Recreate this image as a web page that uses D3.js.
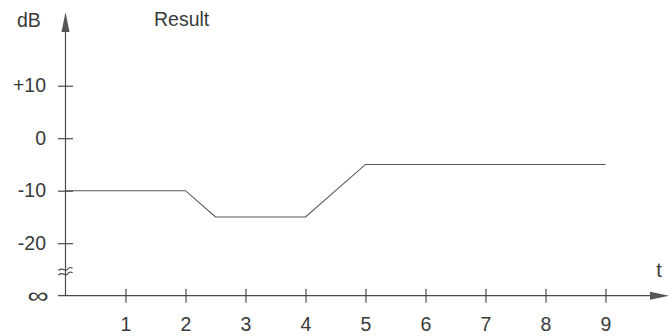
<!DOCTYPE html>
<html><head><meta charset="utf-8">
<script src="https://cdn.jsdelivr.net/npm/d3@7"></script>
<style>
html,body{margin:0;padding:0;background:#fff;}
svg{display:block;}
text{font-family:"Liberation Sans",Arial,Helvetica,sans-serif;fill:#3a3a3a;}
</style></head>
<body>
<svg id="c" width="671" height="336"></svg>
<script>
// Data
const tValues = [0, 2, 2.5, 4, 5, 9];
const dbValues = [-10, -10, -15, -15, -5, -5];
const xTicks = [1, 2, 3, 4, 5, 6, 7, 8, 9];
const yTicks = [10, 0, -10, -20];
const yTickLabels = ["+10", "0", "-10", "-20"];
const infinityLevel = -30; // where the "∞" baseline sits
const title = "Result";
const yLabel = "dB";
const xLabel = "t";

const svg = d3.select("#c");
const x = d3.scaleLinear().domain([0, 10]).range([65.5, 665.5]);
const y = d3.scaleLinear().domain([-30, 10]).range([295.7, 85.7]);
const axisColor = "#4a4a4a";
const fs = 19.5;

// y axis line
svg.append("line").attr("x1", x(0)).attr("x2", x(0))
  .attr("y1", y(infinityLevel)).attr("y2", 22)
  .attr("stroke", axisColor).attr("stroke-width", 1.2);
svg.append("path").attr("d", `M${x(0)},12 L${x(0)-4},32 L${x(0)+4},32 Z`).attr("fill", "#555");

// x axis line
svg.append("line").attr("x1", 58).attr("x2", 655)
  .attr("y1", y(infinityLevel)).attr("y2", y(infinityLevel))
  .attr("stroke", axisColor).attr("stroke-width", 1.2);
svg.append("path").attr("d", `M669,${y(infinityLevel)} L650,${y(infinityLevel)-4} L650,${y(infinityLevel)+4} Z`).attr("fill", "#555");

// x ticks via d3 axis
const xAxis = d3.axisBottom(x).tickValues(xTicks).tickSize(7).tickPadding(14).tickFormat(d3.format("d"));
const gx = svg.append("g").attr("transform", `translate(0,${y(infinityLevel)})`).call(xAxis);
gx.select(".domain").remove();
gx.selectAll(".tick line").attr("y1", -7).attr("y2", 7).attr("stroke", axisColor).attr("stroke-width", 1.2);
gx.selectAll(".tick text").attr("font-size", fs).attr("fill", "#3a3a3a").attr("font-family", "Liberation Sans, Arial, sans-serif");

// y ticks via d3 axis
const yAxis = d3.axisLeft(y).tickValues(yTicks).tickSize(7.5).tickPadding(12)
  .tickFormat((d, i) => yTickLabels[i]);
const gy = svg.append("g").attr("transform", `translate(${x(0)},0)`).call(yAxis);
gy.select(".domain").remove();
gy.selectAll(".tick line").attr("x1", -7.5).attr("x2", 7.5).attr("stroke", axisColor).attr("stroke-width", 1.2);
gy.selectAll(".tick text").attr("font-size", fs).attr("fill", "#3a3a3a").attr("font-family", "Liberation Sans, Arial, sans-serif")
  .attr("dx", 0);

// infinity label
svg.append("g").attr("transform", `translate(38,${y(infinityLevel)}) scale(1.35,1)`)
  .append("text").attr("x", 0).attr("y", 0).attr("dy", "0.33em")
  .attr("text-anchor", "middle").attr("font-size", 22).text("∞");

// break symbol ≈
const bx = x(0);
[269.5, 274].forEach(by => {
  svg.append("path")
    .attr("d", `M${bx-7},${by+1} C${bx-3},${by-3} ${bx},${by+3} ${bx+2},${by} S${bx+6},${by-2} ${bx+7},${by-1}`)
    .attr("fill", "none").attr("stroke", axisColor).attr("stroke-width", 1.2);
});

// data line
const line = d3.line().x((d, i) => x(tValues[i])).y(d => y(d));
svg.append("path").datum(dbValues).attr("d", line)
  .attr("fill", "none").attr("stroke", "#555").attr("stroke-width", 1.1);

// labels
svg.append("text").attr("x", 17).attr("y", 27).attr("font-size", fs).text(yLabel);
svg.append("text").attr("x", 154).attr("y", 26).attr("font-size", fs).text(title);
svg.append("text").attr("x", 659).attr("y", 277).attr("text-anchor", "middle").attr("font-size", 20).text(xLabel);
</script>
</body></html>
